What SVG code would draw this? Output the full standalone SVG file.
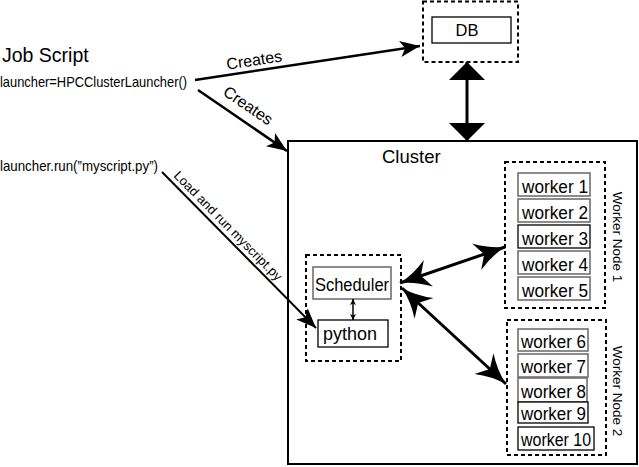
<svg xmlns="http://www.w3.org/2000/svg" width="639" height="467" viewBox="0 0 639 467">
<style>
text{font-family:"Liberation Sans",Arial,sans-serif;fill:#000}
.dash{fill:none;stroke:#000;stroke-width:2;stroke-dasharray:4 3}
.box{fill:#fff;stroke:#000;stroke-width:1.3}
.gbox{fill:#fff;stroke:#707070;stroke-width:1.6}
.wk{font-size:17.5px}
.conn{fill:none;stroke:#000}
</style>
<defs>
<marker id="tri" markerUnits="userSpaceOnUse" viewBox="0 0 20 16" markerWidth="20" markerHeight="16" refX="20" refY="8" orient="auto"><path d="M0,0 L20,8 L0,16 L5,8 z" fill="#000"/></marker>
<marker id="big" markerUnits="userSpaceOnUse" viewBox="0 0 18 36" markerWidth="18" markerHeight="36" refX="18" refY="18" orient="auto-start-reverse"><path d="M0,0 L18,18 L0,36 z" fill="#000"/></marker>
<marker id="barb" markerUnits="userSpaceOnUse" viewBox="0 0 32 28" markerWidth="32" markerHeight="28" refX="32" refY="14" orient="auto-start-reverse"><path d="M32,14 Q16,10 2,0 L10,14 L2,28 Q16,18 32,14 z" fill="#000"/></marker>
<marker id="small" markerUnits="userSpaceOnUse" viewBox="0 0 6 6" markerWidth="6" markerHeight="6" refX="6" refY="3" orient="auto-start-reverse"><path d="M0,0 L6,3 L0,6 L1.5,3 z" fill="#000"/></marker>
</defs>
<rect width="639" height="467" fill="#fff"/>

<g id="jobscript">
<text x="2" y="62" font-size="19.5">Job Script</text>
<text x="0" y="87" font-size="14.5" textLength="187" lengthAdjust="spacingAndGlyphs">launcher=HPCClusterLauncher()</text>
<text x="0" y="171" font-size="14.5" textLength="158" lengthAdjust="spacingAndGlyphs">launcher.run(”myscript.py”)</text>
</g>

<g id="db">
<rect class="dash" x="423" y="1.5" width="95" height="60.5"/>
<rect class="box" x="432" y="17" width="79" height="26"/>
<text x="467" y="36" font-size="16.5" text-anchor="middle">DB</text>
</g>

<g id="cluster">
<rect x="288" y="141" width="349" height="323" fill="none" stroke="#000" stroke-width="2"/>
<text x="382" y="163" font-size="18.5">Cluster</text>
</g>

<g id="scheduler-node">
<rect class="dash" x="306" y="255" width="95" height="106"/>
</g>
<g id="scheduler">
<rect class="gbox" x="313" y="267" width="78" height="32"/>
<text x="315" y="291" font-size="18" textLength="74" lengthAdjust="spacingAndGlyphs">Scheduler</text>
</g>
<g id="python">
<rect class="box" x="318" y="320" width="70" height="27"/>
<text x="323" y="340" font-size="18" textLength="54" lengthAdjust="spacingAndGlyphs">python</text>
</g>

<g id="worker-node-1">
<rect class="dash" x="505" y="162" width="100" height="146"/>
<text transform="translate(613,237) rotate(90)" font-size="13.5" text-anchor="middle">Worker Node 1</text>
<rect class="gbox" x="518" y="173" width="72" height="23"/>
<text class="wk" x="522" y="193" textLength="66" lengthAdjust="spacingAndGlyphs">worker 1</text>
<rect class="gbox" x="518" y="199" width="72" height="23"/>
<text class="wk" x="522" y="219" textLength="66" lengthAdjust="spacingAndGlyphs">worker 2</text>
<rect class="box" x="518" y="225" width="72" height="23"/>
<text class="wk" x="522" y="245" textLength="66" lengthAdjust="spacingAndGlyphs">worker 3</text>
<rect class="gbox" x="518" y="251" width="72" height="23"/>
<text class="wk" x="522" y="271" textLength="66" lengthAdjust="spacingAndGlyphs">worker 4</text>
<rect class="gbox" x="518" y="277" width="72" height="23"/>
<text class="wk" x="522" y="297" textLength="66" lengthAdjust="spacingAndGlyphs">worker 5</text>
</g>

<g id="worker-node-2">
<rect class="dash" x="507" y="320" width="99" height="135"/>
<text transform="translate(613,391) rotate(90)" font-size="13.5" text-anchor="middle">Worker Node 2</text>
<rect class="gbox" x="518" y="329" width="70" height="22"/>
<text class="wk" x="521" y="348" textLength="65" lengthAdjust="spacingAndGlyphs">worker 6</text>
<rect class="gbox" x="518" y="354" width="70" height="23" stroke-width="2"/>
<text class="wk" x="521" y="373" textLength="65" lengthAdjust="spacingAndGlyphs">worker 7</text>
<rect class="gbox" x="518" y="378" width="69" height="24"/>
<text class="wk" x="521" y="398" textLength="65" lengthAdjust="spacingAndGlyphs">worker 8</text>
<rect class="box" x="518" y="402" width="70" height="21" stroke-width="2"/>
<text class="wk" x="521" y="420" textLength="65" lengthAdjust="spacingAndGlyphs">worker 9</text>
<rect class="box" x="518" y="427" width="76" height="23"/>
<text class="wk" x="521" y="446" textLength="70" lengthAdjust="spacingAndGlyphs">worker 10</text>
</g>

<g id="connectors">
<line class="conn" x1="195" y1="80" x2="420" y2="46" stroke-width="2.5" marker-end="url(#tri)"/>
<text transform="translate(255,65.5) rotate(-8.6)" font-size="16" text-anchor="middle">Creates</text>
<line class="conn" x1="198" y1="90" x2="287" y2="151" stroke-width="2.5" marker-end="url(#tri)"/>
<text transform="translate(245,110) rotate(34.4)" font-size="16" text-anchor="middle">Creates</text>
<line class="conn" x1="162" y1="172" x2="316" y2="328" stroke-width="2" marker-end="url(#tri)"/>
<text transform="translate(225,229) rotate(45.45)" font-size="13" text-anchor="middle" textLength="148" lengthAdjust="spacingAndGlyphs">Load and run myscript.py</text>
<line class="conn" x1="467" y1="62" x2="467" y2="141" stroke-width="3" marker-start="url(#big)" marker-end="url(#big)"/>
<line class="conn" x1="400" y1="283" x2="505" y2="247" stroke-width="3" marker-start="url(#barb)" marker-end="url(#barb)"/>
<line class="conn" x1="402" y1="288" x2="506" y2="384" stroke-width="3" marker-start="url(#barb)" marker-end="url(#barb)"/>
<line class="conn" x1="353" y1="299" x2="353" y2="320" stroke-width="1.5" marker-start="url(#small)" marker-end="url(#small)"/>
</g>
</svg>
